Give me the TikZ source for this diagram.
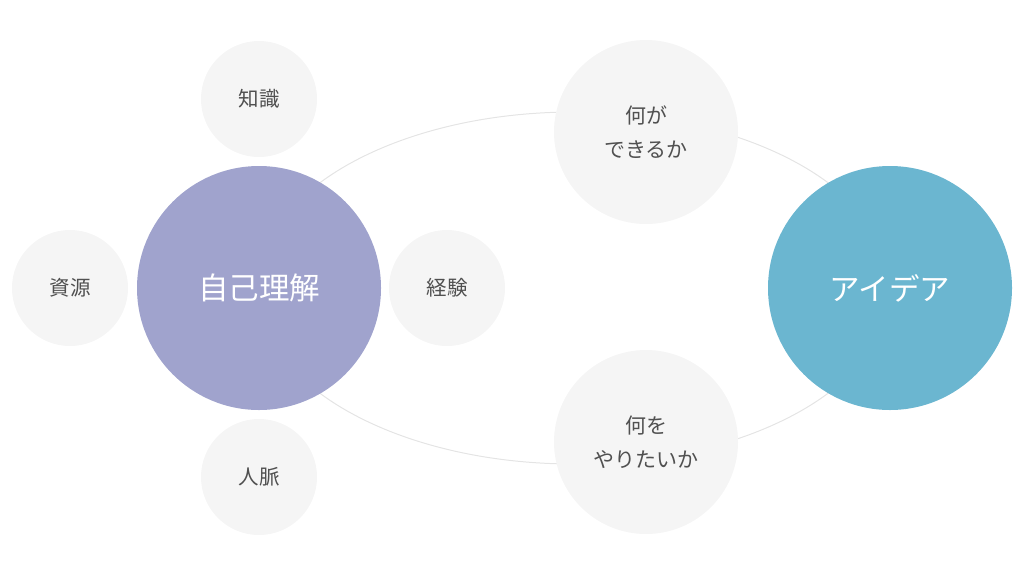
\documentclass[tikz,border=0pt]{standalone}
\usepackage{fontspec}
\setmainfont{Noto Sans CJK JP}
\usepackage{tikz}
\definecolor{selfcol}{RGB}{160,163,205}
\definecolor{ideacol}{RGB}{107,182,208}
\definecolor{softgray}{RGB}{245,245,245}
\definecolor{ringgray}{RGB}{228,228,228}
\definecolor{labelgray}{RGB}{80,80,80}
\tikzset{
  bigcircle/.style={circle, inner sep=0pt, minimum size=244pt, text=white,
    font=\fontsize{30.5}{34}\selectfont},
  midcircle/.style={circle, fill=softgray, inner sep=0pt, minimum size=184pt,
    text=labelgray, align=center, font=\fontsize{21}{34.5}\selectfont},
  smallcircle/.style={circle, fill=softgray, inner sep=0pt, minimum size=116pt,
    text=labelgray, font=\fontsize{20.5}{24}\selectfont},
}

\begin{document}
\begin{tikzpicture}[x=1pt, y=-1pt]
    \useasboundingbox (0,0) rectangle (1024,576);

    % Ring behind everything
    \draw[ringgray, line width=1pt] (574,288) ellipse [x radius=317, y radius=176];

    % Self side
    \node[bigcircle, fill=selfcol] (self) at (259,288) {自己理解};
    \node[smallcircle] (knowledge) at (259,99) {知識};
    \node[smallcircle] (resources) at (70,288) {資源};
    \node[smallcircle] (experience) at (447,288) {経験};
    \node[smallcircle] (network) at (259,477) {人脈};

    % Questions on the ring
    \node[midcircle] (cando) at (646,132) {何が\\できるか};
    \node[midcircle] (wantdo) at (646,442) {何を\\やりたいか};

    % Idea side
    \node[bigcircle, fill=ideacol] (idea) at (890,288) {アイデア};
\end{tikzpicture}
\end{document}
